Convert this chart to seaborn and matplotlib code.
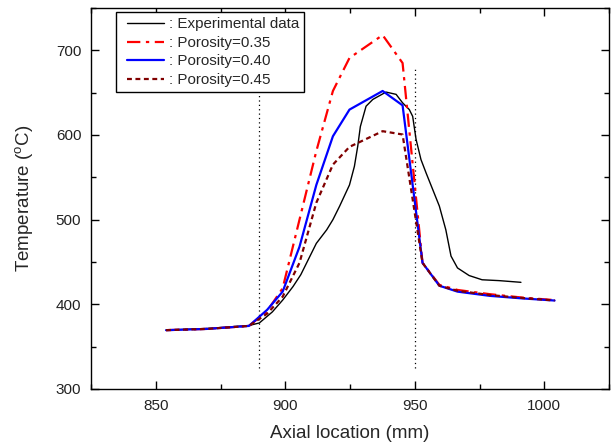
import numpy as np
import pandas as pd
import matplotlib
matplotlib.use("Agg")
import matplotlib.pyplot as plt
import seaborn as sns
from matplotlib.ticker import MultipleLocator
from matplotlib.legend_handler import HandlerLine2D
from matplotlib.lines import Line2D

# ---- data ----
exp_x = [854, 870, 886, 890, 895, 899, 903, 906, 912, 916, 918.4, 921, 924.8, 926.7, 928,
         929, 931.2, 933.8, 938.9, 942.8, 945.3, 947.9, 949.2, 950.5, 952.4, 954.4, 959.5,
         962, 964, 966.5, 971, 976, 982.6, 991]
exp_y = [369.5, 371.5, 375, 378, 391, 405, 421, 435, 472, 488, 500, 516, 541, 563, 587,
         610, 634, 642, 650.7, 648, 638, 630, 622, 595, 571, 555, 516,
         488, 457, 443, 434, 429, 428, 426]

sim_x = [854, 870, 886, 893, 899, 905.5, 912, 918.4, 924.8, 937.6, 945.3, 953, 959.5,
         966.5, 979, 991.5, 1004]
p035_y = [369.5, 371, 374.5, 392, 419, 500, 581, 652, 691, 718, 685, 449, 423,
          417, 412, 408, 405]
p040_y = [369.5, 371, 374.5, 393.5, 415, 468, 541, 598.5, 630, 652, 635, 449, 422,
          415, 410, 407, 404.5]
p045_y = [369.5, 371, 374.5, 389, 409, 449, 520, 565, 586, 604.5, 600.6, 449, 422,
          416, 411, 407.5, 404.5]

labels = [": Experimental data", ": Porosity=0.35", ": Porosity=0.40", ": Porosity=0.45"]
vlines_x = [890, 950]
vline_ylim = (325, 680)

# ---- style ----
sns.set_theme(style="ticks")
plt.rcParams['font.family'] = ['Liberation Sans', 'DejaVu Sans']
plt.rcParams['mathtext.fontset'] = 'custom'
plt.rcParams['mathtext.rm'] = 'Liberation Sans'
plt.rcParams['mathtext.it'] = 'Liberation Sans'

fig = plt.figure(figsize=(6.11, 4.46), dpi=100)
ax = fig.add_axes([91/611, 1-389/446, (609-91)/611, (389-8)/446])

for xv in vlines_x:
    ax.plot([xv, xv], list(vline_ylim), color='black', linestyle=(0, (1, 2.5)), linewidth=0.9, zorder=1)

df_exp = pd.DataFrame({"x": exp_x, "y": exp_y})
sns.lineplot(data=df_exp, x="x", y="y", ax=ax, color='black', linewidth=1.0,
             estimator=None, sort=False, label=labels[0])

df35 = pd.DataFrame({"x": sim_x, "y": p035_y})
sns.lineplot(data=df35, x="x", y="y", ax=ax, color='#ff0000', linewidth=1.6,
             estimator=None, sort=False, label=labels[1])
ax.lines[-1].set_dashes([6, 2.5, 1.5, 2.5])

df40 = pd.DataFrame({"x": sim_x, "y": p040_y})
sns.lineplot(data=df40, x="x", y="y", ax=ax, color='#0000ff', linewidth=1.6,
             estimator=None, sort=False, label=labels[2])

df45 = pd.DataFrame({"x": sim_x, "y": p045_y})
sns.lineplot(data=df45, x="x", y="y", ax=ax, color='#800000', linewidth=1.6,
             estimator=None, sort=False, label=labels[3])
ax.lines[-1].set_dashes([2.2, 1.6])

ax.set_xlim(825, 1025)
ax.set_ylim(300, 750)
ax.xaxis.set_major_locator(MultipleLocator(50))
ax.xaxis.set_minor_locator(MultipleLocator(25))
ax.yaxis.set_major_locator(MultipleLocator(100))
ax.yaxis.set_minor_locator(MultipleLocator(50))
ax.tick_params(which='both', direction='in', top=True, right=True, colors='black',
               labelsize=11, width=1.0)
ax.tick_params(which='major', length=6, pad=7)
ax.tick_params(which='minor', length=3.5)
for lab in ax.get_xticklabels() + ax.get_yticklabels():
    lab.set_color('#222222')
for s in ax.spines.values():
    s.set_linewidth(1.0)
    s.set_color('black')

ax.set_xlabel("Axial location (mm)", fontsize=13.5, labelpad=9)
ax.set_ylabel(r"Temperature ($^\mathrm{o}$C)", fontsize=13.5, labelpad=15)

handles, labs = ax.get_legend_handles_labels()
leg = ax.legend(handles, labs, loc='upper left', bbox_to_anchor=(25/518, 1-4/381),
                borderaxespad=0, frameon=True, fancybox=False, edgecolor='black',
                framealpha=1, fontsize=10.9, handlelength=2.8, handletextpad=0.33,
                labelspacing=0.3, borderpad=0.35,
                handler_map={Line2D: HandlerLine2D(xpad=0.4)})
leg.get_frame().set_linewidth(1.0)

fig.savefig("out.png", dpi=100)
